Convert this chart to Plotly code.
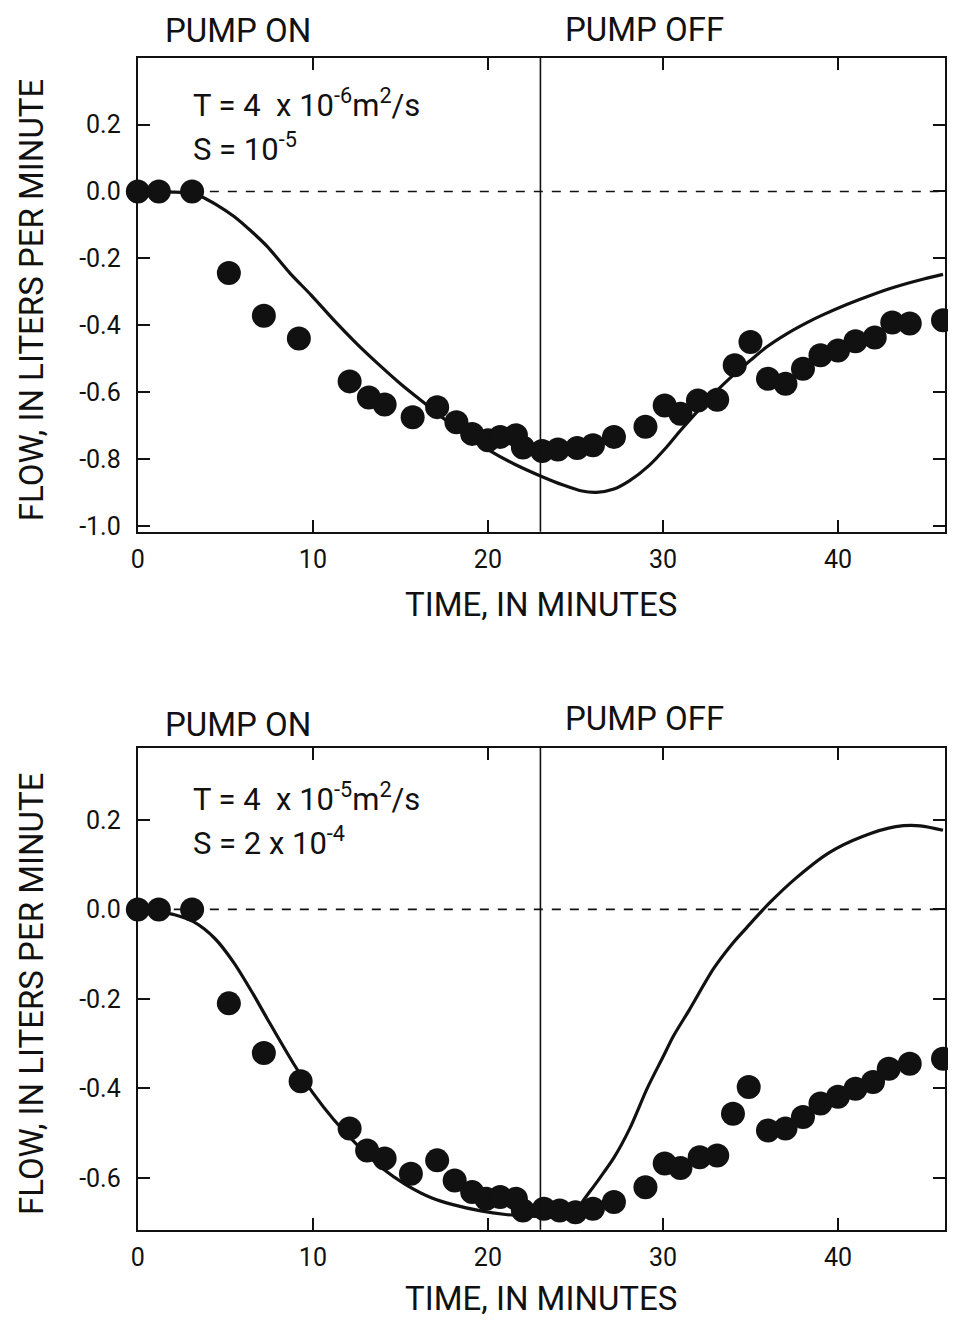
import plotly.graph_objects as go

# ---------------- data ----------------
pump_off_time = 23.0

t_obs_top = [0, 1.2, 3.1, 5.2, 7.2, 9.2, 12.1, 13.2, 14.1, 15.7, 17.1, 18.2, 19.1, 20.0, 20.7,
             21.6, 22.0, 23.1, 24.0, 25.1, 26.0, 27.2, 29.0, 30.1, 31.0, 32.0, 33.1, 34.1, 35.0,
             36.0, 37.0, 38.0, 39.0, 40.0, 41.0, 42.1, 43.1, 44.1, 46.0]
y_obs_top = [0, 0, 0, -0.244, -0.372, -0.44, -0.568, -0.616, -0.637, -0.675, -0.645, -0.69,
             -0.725, -0.744, -0.734, -0.729, -0.766, -0.776, -0.772, -0.767, -0.759, -0.734,
             -0.704, -0.64, -0.665, -0.625, -0.623, -0.52, -0.45, -0.56, -0.575, -0.53, -0.49,
             -0.476, -0.448, -0.437, -0.392, -0.395, -0.385]

t_mod_top = [0, 1, 2, 3, 3.6, 4.5, 5.5, 6.5, 7.4, 8.7, 9.9, 11.2, 12.5, 13.9, 15.0, 16.3, 18.0,
             20.1, 21.5, 23.1, 24.3, 25.3, 26.2, 27.2, 28.1, 29.2, 30.2, 31.0, 32.1, 33.0, 34.0,
             35.0, 35.9, 37.0, 38.2, 39.1, 40.5, 42.0, 43.3, 44.9, 46.0]
y_mod_top = [0, 0, -0.002, -0.006, -0.015, -0.04, -0.075, -0.12, -0.165, -0.245, -0.31, -0.385,
             -0.455, -0.524, -0.575, -0.63, -0.70, -0.775, -0.815, -0.853, -0.878, -0.895, -0.9,
             -0.89, -0.865, -0.82, -0.765, -0.715, -0.65, -0.60, -0.55, -0.505, -0.466, -0.428,
             -0.393, -0.37, -0.338, -0.308, -0.285, -0.262, -0.248]

t_obs_bot = [0, 1.2, 3.1, 5.2, 7.2, 9.3, 12.1, 13.1, 14.1, 15.6, 17.1, 18.1, 19.1, 19.9, 20.7,
             21.6, 22.0, 23.2, 24.1, 25.0, 26.0, 27.2, 29.0, 30.1, 31.0, 32.1, 33.1, 34.0, 34.9,
             36.0, 37.0, 38.0, 39.0, 40.0, 41.0, 42.0, 42.9, 44.1, 46.0]
y_obs_bot = [0, 0, 0, -0.21, -0.321, -0.384, -0.49, -0.539, -0.557, -0.591, -0.561, -0.606,
             -0.632, -0.647, -0.643, -0.647, -0.673, -0.669, -0.673, -0.677, -0.669, -0.654,
             -0.621, -0.568, -0.578, -0.554, -0.55, -0.457, -0.397, -0.494, -0.49, -0.464,
             -0.434, -0.419, -0.401, -0.386, -0.356, -0.345, -0.334]

t_mod_bot = [0, 1.1, 2.1, 3.2, 4.4, 5.5, 6.6, 7.4, 8.9, 10.0, 11.2, 12.5, 14.0, 15.3, 16.8, 18.0,
             19.6, 21.0, 22.4, 23.5, 24.5, 25.0, 25.5, 26.4, 27.2, 28.1, 29.1, 30.0, 30.6, 31.5,
             32.9, 34.0, 34.8, 36.1, 37.6, 39.5, 41.4, 43.3, 44.7, 46.0]
y_mod_bot = [0, -0.005, -0.012, -0.028, -0.065, -0.12, -0.19, -0.245, -0.345, -0.41, -0.47,
             -0.525, -0.58, -0.615, -0.645, -0.66, -0.674, -0.682, -0.686, -0.688, -0.688, -0.675,
             -0.648, -0.60, -0.555, -0.49, -0.40, -0.33, -0.283, -0.225, -0.132, -0.075, -0.04,
             0.015, 0.07, 0.127, 0.163, 0.185, 0.187, 0.177]

x_ticks = [0, 10, 20, 30, 40]
x_ticktext = ["0", "10", "20", "30", "40"]
y_ticks_top = [0.2, 0.0, -0.2, -0.4, -0.6, -0.8, -1.0]
y_ticktext_top = ["0.2", "0.0", "-0.2", "-0.4", "-0.6", "-0.8", "-1.0"]
y_ticks_bot = [0.2, 0.0, -0.2, -0.4, -0.6]
y_ticktext_bot = ["0.2", "0.0", "-0.2", "-0.4", "-0.6"]

x_range = [0, 46.1]
y_range_top = [-1.018, 0.4]
y_range_bot = [-0.716, 0.362]

FONT = "Roboto, Liberation Sans, sans-serif"
INK = "#111111"
W, H = 956, 1331


def px(xp):
    # convert a target screen x position into paper units
    return ((xp - 14) / 0.994) / W


def py(yp):
    # convert a target screen y position into paper units
    return 1 - ((yp - 7.26) / 0.9949) / H


fig = go.Figure()

panels = [
    ("x", "y", t_obs_top, y_obs_top, t_mod_top, y_mod_top),
    ("x2", "y2", t_obs_bot, y_obs_bot, t_mod_bot, y_mod_bot),
]
for xa, ya, to, yo, tm, ym in panels:
    fig.add_trace(go.Scatter(x=[x_range[0], x_range[1]], y=[0, 0], mode="lines",
                             line=dict(color=INK, width=1.6, dash="dash"),
                             xaxis=xa, yaxis=ya, showlegend=False, hoverinfo="skip"))
    fig.add_trace(go.Scatter(x=tm, y=ym, mode="lines",
                             line=dict(color=INK, width=3.2, shape="spline", smoothing=0.8),
                             xaxis=xa, yaxis=ya, showlegend=False, cliponaxis=True))
    fig.add_trace(go.Scatter(x=to, y=yo, mode="markers",
                             marker=dict(color=INK, size=24, line=dict(width=0)),
                             xaxis=xa, yaxis=ya, showlegend=False, cliponaxis=False))
    fig.add_shape(type="line", xref=xa, yref=ya + " domain", x0=pump_off_time, x1=pump_off_time,
                  y0=0, y1=1, line=dict(color=INK, width=1.6))

axis_common = dict(showline=True, linecolor=INK, linewidth=2.2, mirror="ticks",
                   ticks="inside", ticklen=12, tickwidth=1.8, tickcolor=INK,
                   showgrid=False, zeroline=False,
                   tickfont=dict(family=FONT, size=25, color=INK))

fig.update_layout(
    width=W, height=H,
    margin=dict(l=0, r=0, t=0, b=0),
    paper_bgcolor="white", plot_bgcolor="white",
    font=dict(family=FONT, color=INK),
    xaxis=dict(domain=[px(137), px(945)], anchor="y", range=x_range,
               tickvals=x_ticks, ticktext=x_ticktext, ticklabelstandoff=4, **axis_common),
    yaxis=dict(domain=[py(532), py(57)], anchor="x", range=y_range_top,
               tickvals=y_ticks_top, ticktext=y_ticktext_top, ticklabelstandoff=10,
               **axis_common),
    xaxis2=dict(domain=[px(137), px(945)], anchor="y2", range=x_range,
                tickvals=x_ticks, ticktext=x_ticktext, ticklabelstandoff=4, **axis_common),
    yaxis2=dict(domain=[py(1231), py(748)], anchor="x2", range=y_range_bot,
                tickvals=y_ticks_bot, ticktext=y_ticktext_bot, ticklabelstandoff=10,
                **axis_common),
)

title_font = dict(family=FONT, size=33, color=INK)
param_font = dict(family=FONT, size=31, color=INK)
ann = []
for ytop, off_y, (tline, sline) in [
    (0, 29, ("T = 4  x 10<sup>-6</sup>m<sup>2</sup>/s", "S = 10<sup>-5</sup>")),
    (695, 24, ("T = 4  x 10<sup>-5</sup>m<sup>2</sup>/s", "S = 2 x 10<sup>-4</sup>")),
]:
    ann += [
        dict(text="PUMP ON", x=px(237), y=py(30 + ytop), font=title_font),
        dict(text="PUMP OFF", x=px(644), y=py(off_y + ytop), font=title_font),
        dict(text="TIME, IN MINUTES", x=px(541), y=py(605 + ytop), font=title_font),
        dict(text="FLOW, IN LITERS PER MINUTE", x=px(30), y=py(300 + ytop), textangle=-90,
             font=title_font),
        dict(text=tline, x=px(190), y=py(103 + ytop), xanchor="left", font=param_font),
        dict(text=sline, x=px(190), y=py(147 + ytop), xanchor="left", font=param_font),
    ]
for a in ann:
    a.setdefault("xanchor", "center")
    a.update(xref="paper", yref="paper", yanchor="middle", showarrow=False)
    fig.add_annotation(**a)

fig.write_html("out.html")
